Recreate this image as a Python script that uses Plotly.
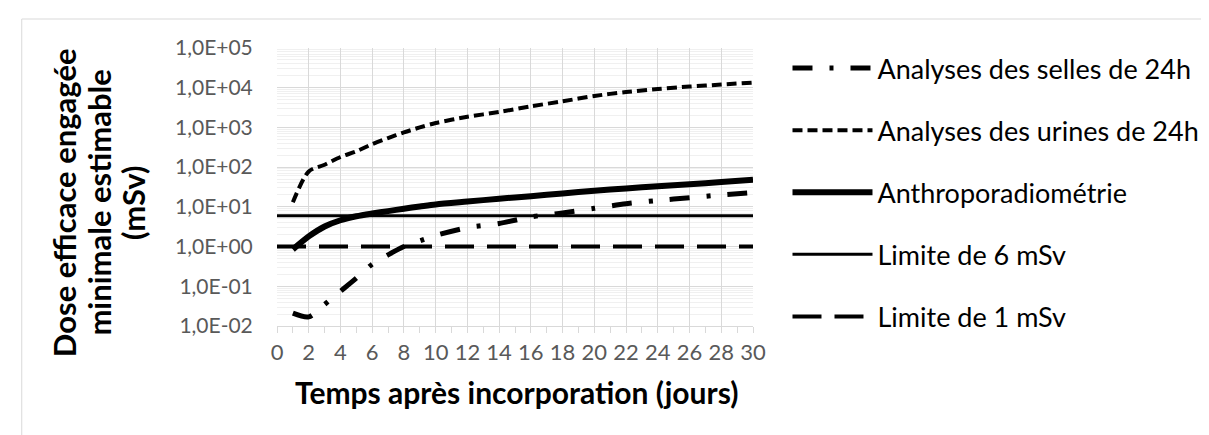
import plotly.graph_objects as go

# ---- data ----
days = [1, 2, 3, 4, 5, 6, 7, 8, 9, 10, 12, 14, 16, 18, 20, 22, 24, 26, 28, 30]
selles = [0.021, 0.017, 0.035, 0.075, 0.16, 0.36, 0.62, 1.0, 1.4, 1.9,
          3.0, 3.8, 5.6, 7.0, 9.2, 12.0, 14.5, 17.0, 20.0, 23.0]
urines = [13, 78, 115, 180, 250, 380, 540, 750, 1000, 1290,
          1850, 2450, 3400, 4550, 6200, 7800, 9300, 10700, 12000, 13500]
anthropo = [0.85, 1.8, 3.2, 4.6, 5.8, 6.8, 7.8, 9.0, 10.2, 11.5,
            13.6, 16.0, 18.6, 21.8, 25.5, 29.0, 33.0, 37.0, 42.0, 48.0]
limit_days = [0, 30]
limite6 = [6, 6]
limite1 = [1, 1]

names = ["Analyses des selles de 24h", "Analyses des urines de 24h",
         "Anthroporadiométrie", "Limite de 6 mSv", "Limite de 1 mSv"]

ytick_vals = [1e-2, 1e-1, 1e0, 1e1, 1e2, 1e3, 1e4, 1e5]
ytick_text = ["1,0E-02", "1,0E-01", "1,0E+00", "1,0E+01", "1,0E+02",
              "1,0E+03", "1,0E+04", "1,0E+05"]
minor_vals = [m * 10.0 ** e for e in range(-2, 5) for m in range(2, 10)]

x_title = "Temps après incorporation (jours)"
y_title_lines = ["Dose efficace engagée", "minimale estimable", "(mSv)"]

FONT = "Lato"
L, R, T, B = 269, 457, 40, 117
W, H = 1209, 435
PW, PH = W - L - R, H - T - B


def px_x(px):
    return (px - L) / PW


def px_y(py):
    return (H - B - py) / PH


fig = go.Figure()
fig.add_trace(go.Scatter(x=days, y=selles, name=names[0], mode="lines",
                         line=dict(color="black", width=5, dash="20px,17px,4px,17px",
                                   shape="spline", smoothing=0.8),
                         legendgroup="a"))
fig.add_trace(go.Scatter(x=days, y=urines, name=names[1], mode="lines",
                         line=dict(color="black", width=4, dash="10px,5px",
                                   shape="spline", smoothing=0.8),
                         legendgroup="b"))
fig.add_trace(go.Scatter(x=days, y=anthropo, name=names[2], mode="lines",
                         line=dict(color="black", width=6,
                                   shape="spline", smoothing=0.8),
                         legendgroup="c"))
fig.add_trace(go.Scatter(x=limit_days, y=limite6, name=names[3], mode="lines",
                         line=dict(color="black", width=3),
                         legendgroup="d"))
fig.add_trace(go.Scatter(x=limit_days, y=limite1, name=names[4], mode="lines",
                         line=dict(color="black", width=4, dash="29px,13px"),
                         legendgroup="e"))

grid = "#d9d9d9"
annotations = [
    dict(text=x_title, xref="paper", yref="paper",
         x=px_x(512), y=px_y(384), xanchor="center", yanchor="middle",
         showarrow=False, font=dict(family=FONT, size=30, color="black",
                                    weight="bold")),
]
for i, line in enumerate(y_title_lines):
    annotations.append(dict(
        text=line, xref="paper", yref="paper", x=px_x(53 + 35 * i), y=px_y(195),
        xanchor="center", yanchor="middle", textangle=-90, showarrow=False,
        font=dict(family=FONT, size=31, color="black", weight="bold")))

fig.update_layout(
    width=W, height=H, autosize=False,
    margin=dict(l=L, r=R, t=T, b=B, pad=0),
    paper_bgcolor="white", plot_bgcolor="white",
    font=dict(family=FONT, color="#595959"),
    showlegend=True,
    legend=dict(x=px_x(787), xanchor="left", y=px_y(36), yanchor="top",
                font=dict(family=FONT, size=27, color="black"),
                tracegroupgap=24, itemwidth=80, bgcolor="rgba(0,0,0,0)",
                maxheight=400),
    xaxis=dict(range=[0, 30], tick0=0, dtick=2, showgrid=True, gridcolor=grid,
               gridwidth=1.3, zeroline=False, showline=True, linecolor=grid,
               linewidth=1.3, ticks="outside", ticklen=6, tickcolor=grid,
               tickfont=dict(family=FONT, size=22, color="#595959"),
               minor=dict(dtick=1, ticks="outside", ticklen=6, tickcolor=grid,
                          showgrid=False)),
    yaxis=dict(type="log", range=[-2, 5], tickvals=ytick_vals, ticktext=ytick_text,
               showgrid=True, gridcolor=grid, gridwidth=1.3, zeroline=False,
               showline=False, ticks="outside", ticklen=19,
               tickcolor="rgba(0,0,0,0)",
               tickfont=dict(family=FONT, size=21, color="#595959"),
               minor=dict(tickvals=minor_vals, showgrid=True, gridcolor="#f0f0f0",
                          gridwidth=1, ticks="")),
    annotations=annotations,
    shapes=[dict(type="rect", xref="paper", yref="paper",
                 x0=px_x(10), x1=px_x(1230), y0=px_y(450), y1=px_y(11),
                 line=dict(color="#d9d9d9", width=1), layer="below")],
)

fig.write_html("out.html")
